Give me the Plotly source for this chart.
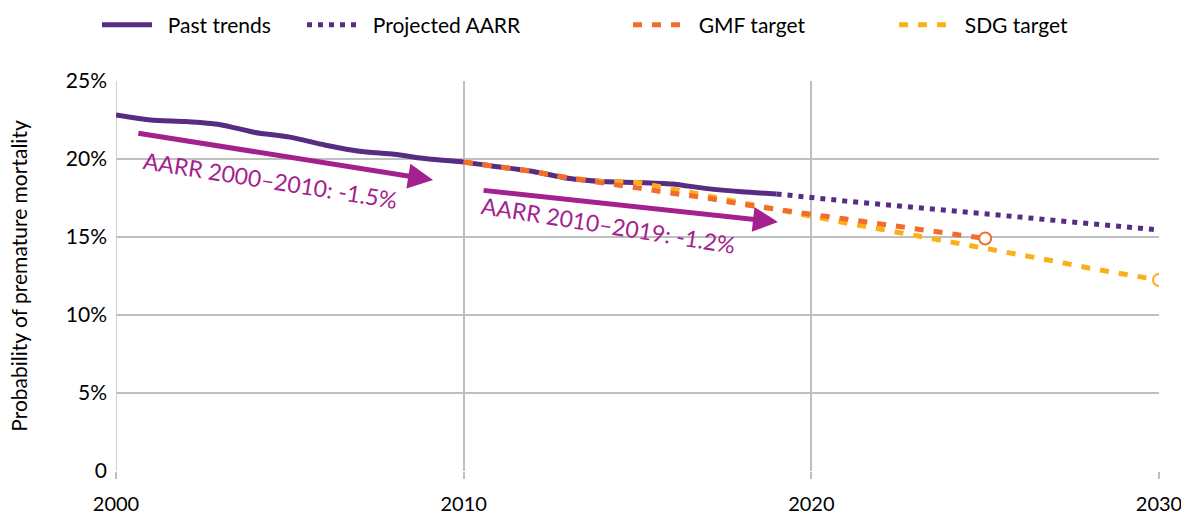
import plotly.graph_objects as go

# ---- data ----
past_years = list(range(2000, 2020))
past_vals = [22.82, 22.5, 22.4, 22.2, 21.7, 21.4, 20.9, 20.5, 20.3, 20.0,
             19.8, 19.5, 19.2, 18.76, 18.55, 18.5, 18.4, 18.1, 17.9, 17.76]

proj_years = list(range(2019, 2031))
proj_vals = [17.76, 17.5, 17.3, 17.1, 16.9, 16.65, 16.45, 16.25, 16.05, 15.85, 15.65, 15.45]

gmf_years = list(range(2010, 2026))
gmf_vals = [19.8, 19.5, 19.2, 18.8, 18.5, 18.15, 17.8, 17.5, 17.1, 16.75,
            16.45, 16.15, 15.85, 15.5, 15.2, 14.9]

sdg_years = list(range(2010, 2031))
sdg_vals = [19.8, 19.5, 19.2, 18.8, 18.55, 18.5, 18.1, 17.65, 17.2, 16.75,
            16.35, 15.9, 15.5, 15.1, 14.7, 14.3, 13.9, 13.45, 13.0, 12.6, 12.24]

x_ticks = [2000, 2010, 2020, 2030]
y_ticks = [0, 5, 10, 15, 20, 25]
y_ticktext = ["0", "5%", "10%", "15%", "20%", "25%"]

aarr_labels = ["AARR 2000–2010: -1.5%", "AARR 2010–2019: -1.2%"]
# arrow (tail year, tail value, tip year, tip value)
arrow1 = (2000.6, 21.67, 2009.12, 18.65)
arrow2 = (2010.53, 18.0, 2019.04, 15.96)
label_pos = [(2004.43, 18.65), (2014.18, 15.77)]

# ---- styles ----
PURPLE = "#582C83"
ORANGE = "#F26C2B"
YELLOW = "#FCAF1A"
MAGENTA = "#A3218E"
GRID = "#BFBFBF"
FONT = "Lato, 'Open Sans', sans-serif"
SP = "\u00a0\u00a0"

fig = go.Figure()

fig.add_trace(go.Scatter(x=proj_years, y=proj_vals, mode="lines", name=SP + "Projected AARR",
                         line=dict(color=PURPLE, width=5, dash="5px,6px"),
                         legend="legend2"))
fig.add_trace(go.Scatter(x=past_years, y=past_vals, mode="lines", name=SP + "Past trends",
                         line=dict(color=PURPLE, width=5, shape="spline", smoothing=0.6),
                         legend="legend"))
fig.add_trace(go.Scatter(x=sdg_years, y=sdg_vals, mode="lines", name=SP + "SDG target",
                         line=dict(color=YELLOW, width=5, dash="9px,10px"),
                         legend="legend4"))
fig.add_trace(go.Scatter(x=gmf_years, y=gmf_vals, mode="lines", name=SP + "GMF target",
                         line=dict(color=ORANGE, width=5, dash="9px,10px"),
                         legend="legend3"))
# end markers
fig.add_trace(go.Scatter(x=[gmf_years[-1]], y=[gmf_vals[-1]], mode="markers", showlegend=False,
                         marker=dict(size=12, color="white", line=dict(color=ORANGE, width=2))))
fig.add_trace(go.Scatter(x=[sdg_years[-1]], y=[sdg_vals[-1]], mode="markers", showlegend=False,
                         marker=dict(size=12, color="white", line=dict(color=YELLOW, width=2))))

annotations = []
for (tx, ty, hx, hy) in (arrow1, arrow2):
    annotations.append(dict(x=hx, y=hy, ax=tx, ay=ty, xref="x", yref="y",
                            axref="x", ayref="y", text="", showarrow=True,
                            arrowhead=2, arrowsize=1, arrowwidth=5, arrowcolor=MAGENTA,
                            standoff=0, startstandoff=0))
for (lbl, (lx, ly)) in zip(aarr_labels, label_pos):
    annotations.append(dict(x=lx, y=ly, xref="x", yref="y", text=lbl, showarrow=False,
                            textangle=9, font=dict(family=FONT, size=23, color=MAGENTA),
                            xanchor="center", yanchor="middle"))

SW, SH = 1181, 525              # screen size
PL, PR, PT, PB = 116, 1159, 81, 471   # plot area in screen pixels
W, H = SW, SH
L, T = PL, PT
R, B = SW - PR, SH - PB
pw = PR - PL
ph = PB - PT

def px2paper(px):
    return (px - PL) / pw

leg_y = 1 + (PT - 25) / ph
legend_common = dict(orientation="h", yanchor="middle", y=leg_y, xanchor="left",
                     font=dict(family=FONT, size=21, color="#000"), itemwidth=50,
                     bgcolor="rgba(0,0,0,0)", borderwidth=0)

fig.update_layout(
    width=W, height=H,
    margin=dict(l=L, r=R, t=T, b=B, autoexpand=False),
    paper_bgcolor="white", plot_bgcolor="white",
    font=dict(family=FONT, size=21, color="#000"),
    legend=dict(legend_common, x=px2paper(97)),
    legend2=dict(legend_common, x=px2paper(302)),
    legend3=dict(legend_common, x=px2paper(628)),
    legend4=dict(legend_common, x=px2paper(894)),
    annotations=annotations,
    xaxis=dict(range=[2000, 2030], tickvals=x_ticks, showgrid=True, gridcolor=GRID, gridwidth=1.5,
               zeroline=False, showline=False, ticks="outside", ticklen=7, tickcolor=GRID,
               tickwidth=1.5, tickfont=dict(family=FONT, size=20), ticklabelstandoff=8,
               ticklabeloverflow="allow", automargin=False),
    yaxis=dict(range=[0, 25], tickvals=y_ticks, ticktext=y_ticktext, showgrid=True,
               gridcolor=GRID, gridwidth=1.5, zeroline=False, showline=False,
               tickfont=dict(family=FONT, size=21), ticklabelstandoff=8, automargin=False,
               title=dict(text="Probability of premature mortality", standoff=32,
                          font=dict(family=FONT, size=21))),
)
fig.add_shape(type="line", xref="x", yref="paper", x0=2000, x1=2000, y0=0, y1=1,
              line=dict(color=GRID, width=1.5), layer="below")

fig.write_html("out.html", config={"displayModeBar": False},
               post_script="document.body.style.margin='0';document.body.style.overflow='hidden';")
